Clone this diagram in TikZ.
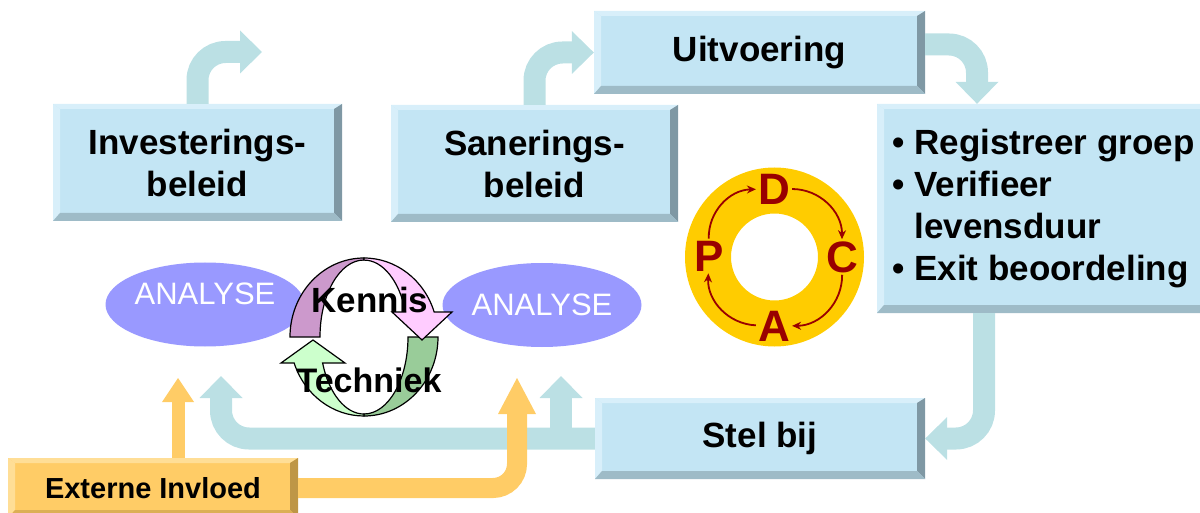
\documentclass[tikz,border=0pt]{standalone}
\usepackage{fontspec}
\setmainfont{Liberation Sans}
\usetikzlibrary{arrows.meta,shapes.geometric}

\definecolor{boxface}{RGB}{195,229,244}
\definecolor{boxlite}{RGB}{216,239,250}
\definecolor{boxdark}{RGB}{127,152,164}
\definecolor{boxshade}{RGB}{158,187,199}
\definecolor{flowcol}{RGB}{187,224,228}
\definecolor{inflcol}{RGB}{255,204,102}
\definecolor{infllite}{RGB}{255,222,150}
\definecolor{infldark}{RGB}{190,150,70}
\definecolor{inflshade}{RGB}{220,175,85}
\definecolor{ovalcol}{RGB}{153,153,255}
\definecolor{gold}{RGB}{255,204,0}
\definecolor{pdcared}{RGB}{153,0,0}
\definecolor{kenlight}{RGB}{255,204,255}
\definecolor{kendark}{RGB}{204,153,204}
\definecolor{teclight}{RGB}{204,255,204}
\definecolor{tecdark}{RGB}{153,204,153}

% bevelled edges of a box: light top/left, dark right, shaded bottom
\newcommand\bevelfaces[3]{%
  \coordinate (bnw) at (path picture bounding box.north west);
  \coordinate (bne) at (path picture bounding box.north east);
  \coordinate (bsw) at (path picture bounding box.south west);
  \coordinate (bse) at (path picture bounding box.south east);
  \fill[#1] (bnw) -- (bne) -- ([shift={(-7pt,-5pt)}]bne) -- ([shift={(7pt,-5pt)}]bnw) -- cycle;
  \fill[#1] (bnw) -- (bsw) -- ([shift={(7pt,8pt)}]bsw) -- ([shift={(7pt,-5pt)}]bnw) -- cycle;
  \fill[#2] (bne) -- (bse) -- ([shift={(-8pt,8pt)}]bse) -- ([shift={(-8pt,-5pt)}]bne) -- cycle;
  \fill[#3] (bsw) -- (bse) -- ([shift={(-8pt,8pt)}]bse) -- ([shift={(7pt,8pt)}]bsw) -- cycle;}

\begin{document}
\begin{tikzpicture}[x=1pt, y=-1pt,
    bevelbox/.style={rectangle, inner sep=0pt, fill=boxface, align=center,
      font=\fontsize{35}{42}\selectfont\bfseries,
      path picture={\bevelfaces{boxlite}{boxdark}{boxshade}}},
    oval/.style={ellipse, fill=ovalcol, text=white, inner sep=0pt,
      minimum width=190pt, minimum height=84pt, font=\fontsize{31}{36}\selectfont},
    flow/.style={draw=flowcol, line width=22pt, rounded corners=28pt,
      -{Triangle[length=22pt, width=43pt, line width=0pt]}},
    infl/.style={draw=inflcol, line width=20pt, rounded corners=24pt,
      -{Triangle[length=36pt, width=38pt, line width=0pt]}},
    pdca/.style={text=pdcared, inner sep=2pt, font=\fontsize{44}{44}\selectfont\bfseries},
    cyc/.style={draw=pdcared, line width=1.8pt, -{Stealth[length=9pt, width=8pt]}},
    ring/.style={draw=black, line width=1.2pt},
    loopword/.style={font=\fontsize{35}{35}\selectfont\bfseries}]
  \useasboundingbox (0,0) rectangle (1200,513);

  % boxes
  \node[bevelbox, minimum width=289pt, minimum height=117pt] (inv) at (197.5,162.5) {Investerings-\\beleid};
  \node[bevelbox, minimum width=287pt, minimum height=117pt] (san) at (534.5,163.5) {Sanerings-\\beleid};
  \node[bevelbox, minimum width=331pt, minimum height=83pt] (uit) at (759.5,52.5) {Uitvoering};
  \node[bevelbox, minimum width=333pt, minimum height=209pt, align=left] (reg) at (1043.5,208.5)
    {• Registreer groep\\• Verifieer\\\hphantom{•\ }levensduur\\• Exit beoordeling};
  \node[bevelbox, minimum width=330pt, minimum height=81pt] (stel) at (760,438.5) {Stel bij};
  \node[bevelbox, fill=inflcol, minimum width=290pt, minimum height=60pt,
    font=\fontsize{29}{34}\selectfont\bfseries,
    path picture={\bevelfaces{infllite}{infldark}{inflshade}}] (ext) at (153,488) {Externe Invloed};

  % analyse ovals
  \node[oval, text height=22pt, text depth=22pt] (an1) at (205,304.5) {ANALYSE};
  \node[oval] (an2) at (542,305) {ANALYSE};

  % free ends of the arrows
  \coordinate (invtip) at (262,52);
  \coordinate (an1tip) at (221,376);
  \coordinate (an2tip) at (561,376);
  \coordinate (ext1tip) at (178,378);
  \coordinate (ext2tip) at (517,378);

  % flow arrows
  \draw[flow] (inv.north) |- (invtip);
  \draw[flow] (san.north) |- (uit.west);
  \draw[flow] ([yshift=8pt]uit.east) -| ([xshift=-66.5pt]reg.north);
  \draw[flow] ([xshift=-59.5pt]reg.south) |- (stel.east);
  \draw[flow] (stel.west) -| (an1tip);
  \draw[flow] (stel.west -| an2tip) -- (an2tip);

  % external influence
  \draw[infl, line width=13pt, -{Triangle[length=24pt, width=32pt, line width=0pt]}]
    (ext1tip |- ext.north) -- (ext1tip);
  \draw[infl] (ext.east) -| (ext2tip);

  % kennis / techniek loop
  \filldraw[ring, fill=tecdark] (438,337) arc[start angle=0, end angle=90, x radius=74, y radius=79]
    -- (364,414) arc[start angle=90, end angle=0, x radius=44, y radius=77] -- cycle;
  \filldraw[ring, fill=teclight] (364,416) arc[start angle=90, end angle=160.8, x radius=74, y radius=79]
    -- (281,363) -- (313,340) -- (345,363) -- (322.6,363)
    arc[start angle=160.3, end angle=90, x radius=44, y radius=77] -- cycle;
  \filldraw[ring, fill=kendark] (290,337) arc[start angle=180, end angle=270, x radius=74, y radius=79]
    -- (364,260) arc[start angle=270, end angle=180, x radius=44, y radius=77] -- cycle;
  \filldraw[ring, fill=kenlight] (364,258) arc[start angle=270, end angle=341.6, x radius=74, y radius=79]
    -- (452,312) -- (422,340) -- (392,312) -- (405.6,312)
    arc[start angle=341, end angle=270, x radius=44, y radius=77] -- cycle;
  \node[loopword] (kennis) at (370,300) {Kennis};
  \node[loopword, font=\fontsize{34}{34}\selectfont\bfseries] (techniek) at (369,380) {Techniek};

  % PDCA ring
  \coordinate (pdc) at (774.5,257);
  \fill[gold, even odd rule] (pdc) circle[radius=89.5] (pdc) circle[radius=43.5];
  \node[pdca] (D) at (774,189) {D};
  \node[pdca] (C) at (842,257) {C};
  \node[pdca] (A) at (774,326) {A};
  \node[pdca] (P) at (709,256) {P};
  \draw[cyc] (P) to[bend left=45] (D);
  \draw[cyc] (D) to[bend left=45] (C);
  \draw[cyc] (C) to[bend left=45] (A);
  \draw[cyc] (A) to[bend left=45] (P);
\end{tikzpicture}
\end{document}
